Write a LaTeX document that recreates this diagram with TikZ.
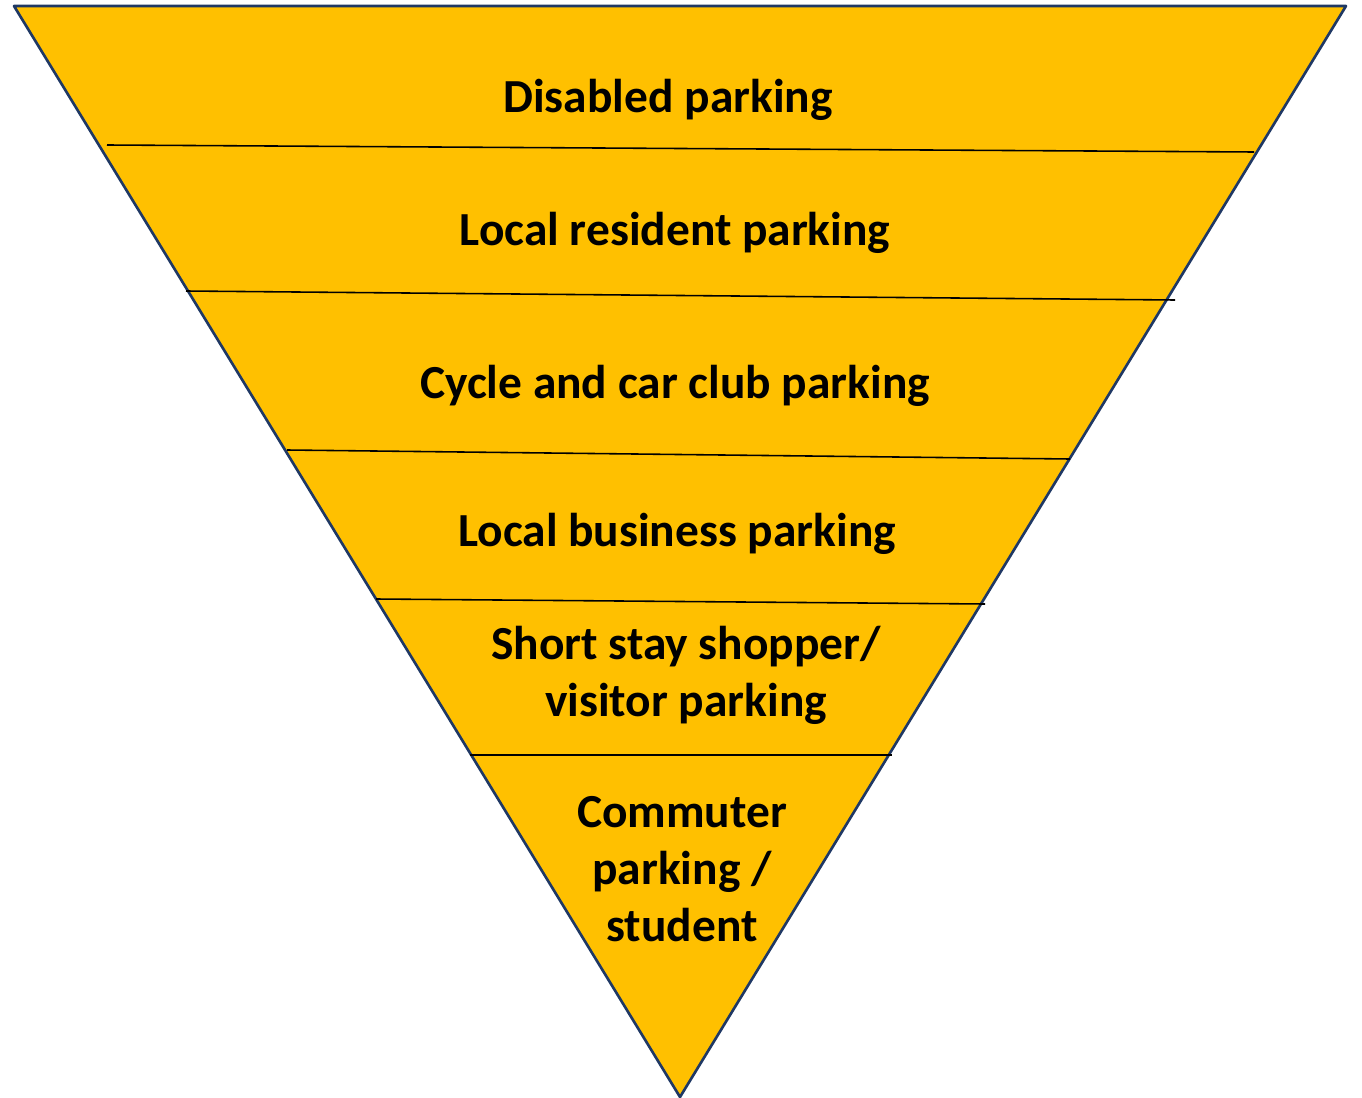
\documentclass[tikz,border=0pt]{standalone}
\usepackage{fontspec}
\setmainfont{Carlito}
\usepackage{xcolor}
\usetikzlibrary{positioning}
\definecolor{gold}{HTML}{FFC000}
\definecolor{navy}{HTML}{1F3864}

\tikzset{
  band/.style={anchor=base, align=center, inner sep=0pt,
    font=\bfseries\fontsize{27}{32.3}\selectfont},
  divider/.style={black, line width=0.9pt}
}

\begin{document}
\begin{tikzpicture}[x=0.02cm, y=-0.02cm]

    \useasboundingbox (0,0) rectangle (1362,1098);

    \coordinate (tl) at (14,6);
    \coordinate (tr) at (1346,6);
    \coordinate (tip) at (680,1097);

    \filldraw[fill=gold, draw=navy, line width=1.5pt, line join=round]
      (tl) -- (tr) -- (tip) -- cycle;

    % band dividers
    \draw[divider] (107,145) -- (1254,152);
    \draw[divider] (186,291) -- (1175,300);
    \draw[divider] (287,450) -- (1070,459);
    \draw[divider] (376,599) -- (985,604);
    \draw[divider] (470,755) -- (892,755);

    % base of a multi-line node is its last line
    \node[band] (disabled) at (668,113) {Disabled parking};
    \node[band] (resident) at (675,246) {Local resident parking};
    \node[band] (cycle) at (675,398) {Cycle and car club parking};
    \node[band] (business) at (677,546) {Local business parking};
    \node[band] (shopper) at (686,716) {Short stay shopper/\\visitor parking};
    \node[band] (commuter) at (682,941) {Commuter\\parking /\\student};

\end{tikzpicture}
\end{document}
